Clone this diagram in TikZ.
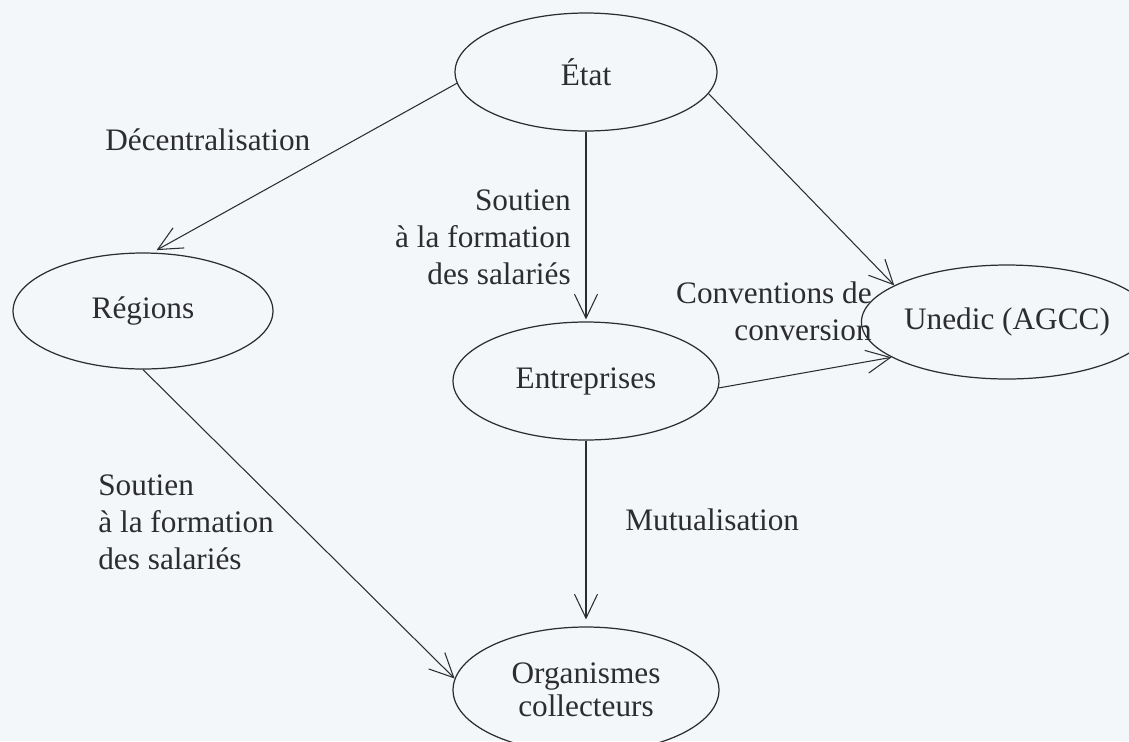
\documentclass[tikz,border=0pt]{standalone}
\usepackage{fontspec}
\setmainfont{Liberation Serif}
\usetikzlibrary{arrows.meta,shapes.geometric}
\definecolor{paper}{RGB}{243,247,250}
\definecolor{ink}{RGB}{45,45,48}
\begin{document}
\begin{tikzpicture}[x=0.02cm,y=-0.02cm,
  bubble/.style={draw=ink, ellipse, line width=0.7pt, inner sep=0pt, text=ink,
    font=\fontsize{17.8}{21.3}\selectfont, align=center},
  lbl/.style={inner sep=0pt, text=ink, font=\fontsize{17.8}{21.3}\selectfont},
  flow/.style={draw=ink, line width=0.6pt, -{Straight Barb[length=0.48cm,width=0.46cm]}}]
\fill[paper] (0,0) rectangle (1129,741);
\useasboundingbox (0,0) rectangle (1129,741);

\node[bubble, minimum width=5.24cm, minimum height=2.36cm] (etat) at (586,72) {État};
\node[bubble, minimum width=5.2cm, minimum height=2.32cm] (regions) at (143,311) {Régions};
\node[bubble, minimum width=5.32cm, minimum height=2.36cm] (entreprises) at (586,381) {Entreprises};
\node[bubble, minimum width=4.88cm, minimum height=2.28cm] (unedic) at (1007,322) {Unedic (AGCC)};
\node[bubble, minimum width=5.32cm, minimum height=2.52cm,
  font=\fontsize{17.8}{18.8}\selectfont] (organismes) at (586,690) {Organismes\\collecteurs};

\node[lbl, anchor=base west] (ldec) at (105,150) {Décentralisation};
\node[lbl, anchor=base east] (lsout1) at (571,210)
  {\begin{tabular}[t]{@{}r@{}}Soutien\\à la formation\\des salariés\end{tabular}};
\node[lbl, anchor=base east] (lconv) at (872,303)
  {\begin{tabular}[t]{@{}r@{}}Conventions de\\conversion\end{tabular}};
\node[lbl, anchor=base west] (lsout2) at (98,495)
  {\begin{tabular}[t]{@{}l@{}}Soutien\\à la formation\\des salariés\end{tabular}};
\node[lbl, anchor=base west] (lmut) at (625,530) {Mutualisation};

\draw[flow, shorten >=0.1cm] (etat.185) -- (regions.81);
\draw[flow, shorten >=0.04cm] (etat.south) -- (entreprises.north);
\draw[flow] (etat.-10) -- (unedic.162);
\draw[flow] (entreprises.-3) -- (unedic.197);
\draw[flow] (regions.south) -- (organismes.175);
\draw[flow, shorten >=0.14cm] (entreprises.south) -- (organismes.north);
\end{tikzpicture}
\end{document}
